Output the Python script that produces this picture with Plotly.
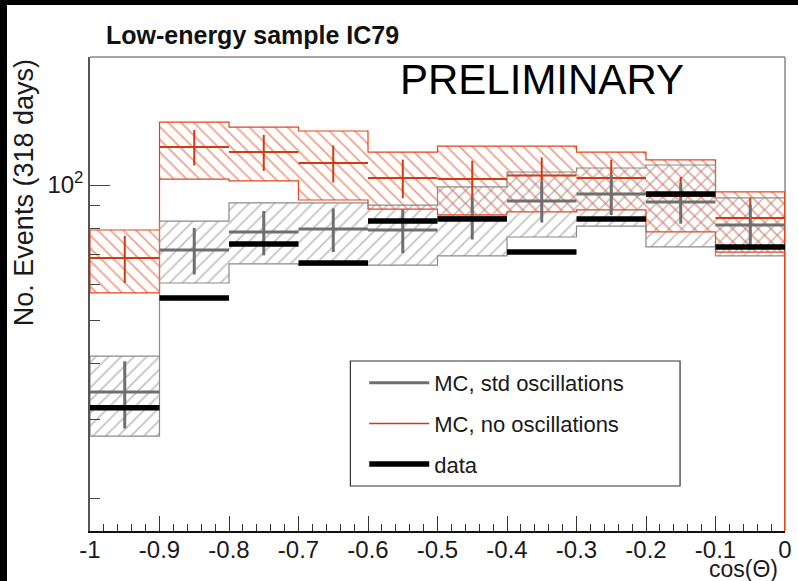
import plotly.graph_objects as go

# ---- data ----
bin_lo = [-1.0, -0.9, -0.8, -0.7, -0.6, -0.5, -0.4, -0.3, -0.2, -0.1]
bin_hi = [-0.9, -0.8, -0.7, -0.6, -0.5, -0.4, -0.3, -0.2, -0.1, 0.0]

# MC, no oscillations
noosc_val = [68.8, 121.5, 118.4, 111.9, 103.7, 103.1, 105.0, 103.7, 94.5, 84.4]
noosc_err = [8.3, 11.0, 10.9, 10.6, 10.2, 10.2, 10.2, 10.2, 9.7, 9.2]
noosc_band_hi = [79.4, 138.1, 134.6, 131.9, 118.4, 122.1, 122.1, 118.4, 113.7, 96.5]
noosc_band_lo = [57.5, 103.1, 102.1, 92.6, 88.4, 85.8, 87.1, 88.0, 78.6, 70.9]

# MC, std oscillations
std_val = [34.6, 71.7, 78.6, 79.8, 79.4, 84.8, 92.1, 95.5, 91.6, 81.5]
std_err = [5.9, 8.5, 8.9, 8.9, 8.9, 9.2, 9.6, 9.8, 9.6, 9.0]
std_band_hi = [41.6, 83.1, 91.2, 91.2, 90.2, 99.0, 106.9, 109.1, 110.8, 93.6]
std_band_lo = [27.6, 60.5, 66.7, 66.3, 66.3, 69.5, 76.6, 81.0, 72.8, 69.5]

# data
data_val = [31.9, 56.0, 73.9, 67.0, 83.1, 84.0, 70.9, 84.0, 95.5, 72.8]

y_minor_ticks = [20, 30, 40, 50, 60, 70, 80, 90]
y_major_ticks = [100]
y_major_text = ["10<sup>2</sup>"]
x_tick_vals = [-1, -0.9, -0.8, -0.7, -0.6, -0.5, -0.4, -0.3, -0.2, -0.1, 0]
x_tick_text = ["-1", "-0.9", "-0.8", "-0.7", "-0.6", "-0.5", "-0.4", "-0.3", "-0.2", "-0.1", "0"]

# ---- styles ----
RED = "#e3441a"
RED_ERR = "#d23a10"
GRAY = "#8a8a8a"
GRAY_ERR = "#6f6f6f"
FONT = "Liberation Sans, Arial, Helvetica, sans-serif"
YLOG_RANGE = [1.2294, 2.2851]

# the white picture sits at (7, 5) on a black page, like the reference
OFF_X, OFF_Y = 7, 5
W, H = 798 - OFF_X, 581 - OFF_Y
PLOT_L, PLOT_R, PLOT_T, PLOT_B = 90, 792, 57, 531          # page pixels
ML, MR, MT, MB = PLOT_L - OFF_X, 798 - PLOT_R, PLOT_T - OFF_Y, 581 - PLOT_B
PW, PH = PLOT_R - PLOT_L, PLOT_B - PLOT_T


def px_x(p):
    return (p - PLOT_L) / PW


def px_y(p):
    return (PLOT_B - p) / PH


centers = [(a + b) / 2 for a, b in zip(bin_lo, bin_hi)]
halfw = [(b - a) / 2 for a, b in zip(bin_lo, bin_hi)]


def band_polygon(upper, lower):
    xs, ys = [], []
    for a, b, u in zip(bin_lo, bin_hi, upper):
        xs += [a, b]
        ys += [u, u]
    for a, b, l in reversed(list(zip(bin_lo, bin_hi, lower))):
        xs += [b, a]
        ys += [l, l]
    xs.append(xs[0])
    ys.append(ys[0])
    return xs, ys


fig = go.Figure()

# bands
rx, ry = band_polygon(noosc_band_hi, noosc_band_lo)
fig.add_trace(go.Scatter(
    x=rx, y=ry, mode="lines", fill="toself",
    fillcolor="rgba(0,0,0,0)",
    fillpattern=dict(shape="\\", fgcolor=RED, bgcolor="rgba(0,0,0,0)",
                     size=9, solidity=0.2),
    line=dict(color=RED, width=1.2), showlegend=False, hoverinfo="skip"))

gx, gy = band_polygon(std_band_hi, std_band_lo)
fig.add_trace(go.Scatter(
    x=gx, y=gy, mode="lines", fill="toself",
    fillcolor="rgba(0,0,0,0)",
    fillpattern=dict(shape="/", fgcolor=GRAY, bgcolor="rgba(0,0,0,0)",
                     size=9, solidity=0.2),
    line=dict(color=GRAY, width=1.2), showlegend=False, hoverinfo="skip"))

# red histogram edge dropping to zero at cos=0
fig.add_trace(go.Scatter(
    x=[bin_hi[-1], bin_hi[-1]], y=[10 ** YLOG_RANGE[0], noosc_band_hi[-1]],
    mode="lines", line=dict(color=RED, width=2), showlegend=False,
    hoverinfo="skip", cliponaxis=False))

# MC no osc crosses
fig.add_trace(go.Scatter(
    x=centers, y=noosc_val, mode="markers",
    marker=dict(size=1, color=RED_ERR),
    error_x=dict(type="data", array=halfw, width=0, thickness=2, color=RED_ERR),
    error_y=dict(type="data", array=noosc_err, width=0, thickness=2, color=RED_ERR),
    showlegend=False, hoverinfo="skip"))

# MC std osc crosses
fig.add_trace(go.Scatter(
    x=centers, y=std_val, mode="markers",
    marker=dict(size=1, color=GRAY_ERR),
    error_x=dict(type="data", array=halfw, width=0, thickness=3, color=GRAY_ERR),
    error_y=dict(type="data", array=std_err, width=0, thickness=3, color=GRAY_ERR),
    showlegend=False, hoverinfo="skip"))

# data
fig.add_trace(go.Scatter(
    x=centers, y=data_val, mode="markers",
    marker=dict(size=1, color="black"),
    error_x=dict(type="data", array=halfw, width=0, thickness=5.5, color="black"),
    showlegend=False, hoverinfo="skip"))

# legend entries
fig.add_trace(go.Scatter(x=[None], y=[None], mode="lines", name="MC, std oscillations",
                         line=dict(color=GRAY_ERR, width=3), legendgroup="a"))
fig.add_trace(go.Scatter(x=[None], y=[None], mode="lines", name="MC, no oscillations",
                         line=dict(color=RED_ERR, width=1.5), legendgroup="b"))
fig.add_trace(go.Scatter(x=[None], y=[None], mode="lines", name="data",
                         line=dict(color="black", width=5.5), legendgroup="c"))

fig.update_layout(
    width=W, height=H,
    margin=dict(l=ML, r=MR, t=MT, b=MB),
    paper_bgcolor="white", plot_bgcolor="white",
    font=dict(family=FONT, color="#1a1a1a"),
    showlegend=True,
    legend=dict(x=px_x(367), y=px_y(362), xanchor="left", yanchor="top",
                bgcolor="rgba(0,0,0,0)", borderwidth=0,
                font=dict(size=22, family=FONT, color="#1a1a1a"),
                traceorder="grouped", tracegroupgap=9, itemwidth=60),
    xaxis=dict(range=[-1, 0], tickvals=x_tick_vals, ticktext=x_tick_text,
               ticks="inside", ticklen=15, tickwidth=1.3, tickcolor="#333",
               tickfont=dict(size=24, family=FONT, color="#1a1a1a"),
               ticklabeloverflow="allow", ticklabelstandoff=-4,
               showline=True, linecolor="#111", linewidth=2,
               showgrid=False, zeroline=False,
               minor=dict(dtick=0.02, ticks="inside", ticklen=7, tickwidth=1.2,
                          tickcolor="#333", showgrid=False)),
    yaxis=dict(type="log", range=YLOG_RANGE, tickvals=y_major_ticks, ticktext=y_major_text,
               ticks="inside", ticklen=20, tickwidth=1.3, tickcolor="#444",
               tickfont=dict(size=24, family=FONT, color="#1a1a1a"),
               showline=True, linecolor="#555", linewidth=1.5,
               showgrid=False, zeroline=False,
               minor=dict(tickvals=y_minor_ticks, ticks="inside", ticklen=10,
                          tickwidth=1.2, tickcolor="#444", showgrid=False)),
)

# frame (top and right) and legend box
fig.add_shape(type="line", xref="paper", yref="paper", x0=0, x1=1, y0=1, y1=1,
              line=dict(color="#888", width=1.5))
fig.add_shape(type="line", xref="paper", yref="paper", x0=1, x1=1, y0=0, y1=1,
              line=dict(color="#888", width=1.5), layer="below")
fig.add_shape(type="rect", xref="paper", yref="paper",
              x0=px_x(353), x1=px_x(686), y0=px_y(486), y1=px_y(361),
              line=dict(color="#333", width=1.2), fillcolor="white", layer="above",
              opacity=1)

# texts
fig.add_annotation(text="<b>Low-energy sample IC79</b>", xref="paper", yref="paper",
                   x=px_x(104), y=px_y(35), xanchor="left", yanchor="middle",
                   showarrow=False, font=dict(size=25, family=FONT, color="#111"))
fig.add_annotation(text="PRELIMINARY", xref="paper", yref="paper",
                   x=px_x(401), y=px_y(80), xanchor="left", yanchor="middle",
                   showarrow=False, font=dict(size=42, family=FONT, color="#000"))
fig.add_annotation(text="No. Events (318 days)", xref="paper", yref="paper",
                   x=px_x(23), y=px_y(57), xanchor="center", yanchor="top",
                   textangle=-90, showarrow=False,
                   font=dict(size=27, family=FONT, color="#1a1a1a"))
fig.add_annotation(text="cos(Θ)", xref="paper", yref="paper",
                   x=px_x(787), y=px_y(569), xanchor="right", yanchor="middle",
                   showarrow=False, font=dict(size=23, family=FONT, color="#1a1a1a"))

fig.write_html(
    "out.html",
    config={"displayModeBar": False},
    post_script=(
        "document.body.style.margin='0px';"
        "document.body.style.overflow='hidden';"
        "document.body.style.background='black';"
        "var d=document.getElementById('{plot_id}');"
        "d.style.position='absolute';d.style.left='%dpx';d.style.top='%dpx';" % (OFF_X, OFF_Y)
    ),
)
